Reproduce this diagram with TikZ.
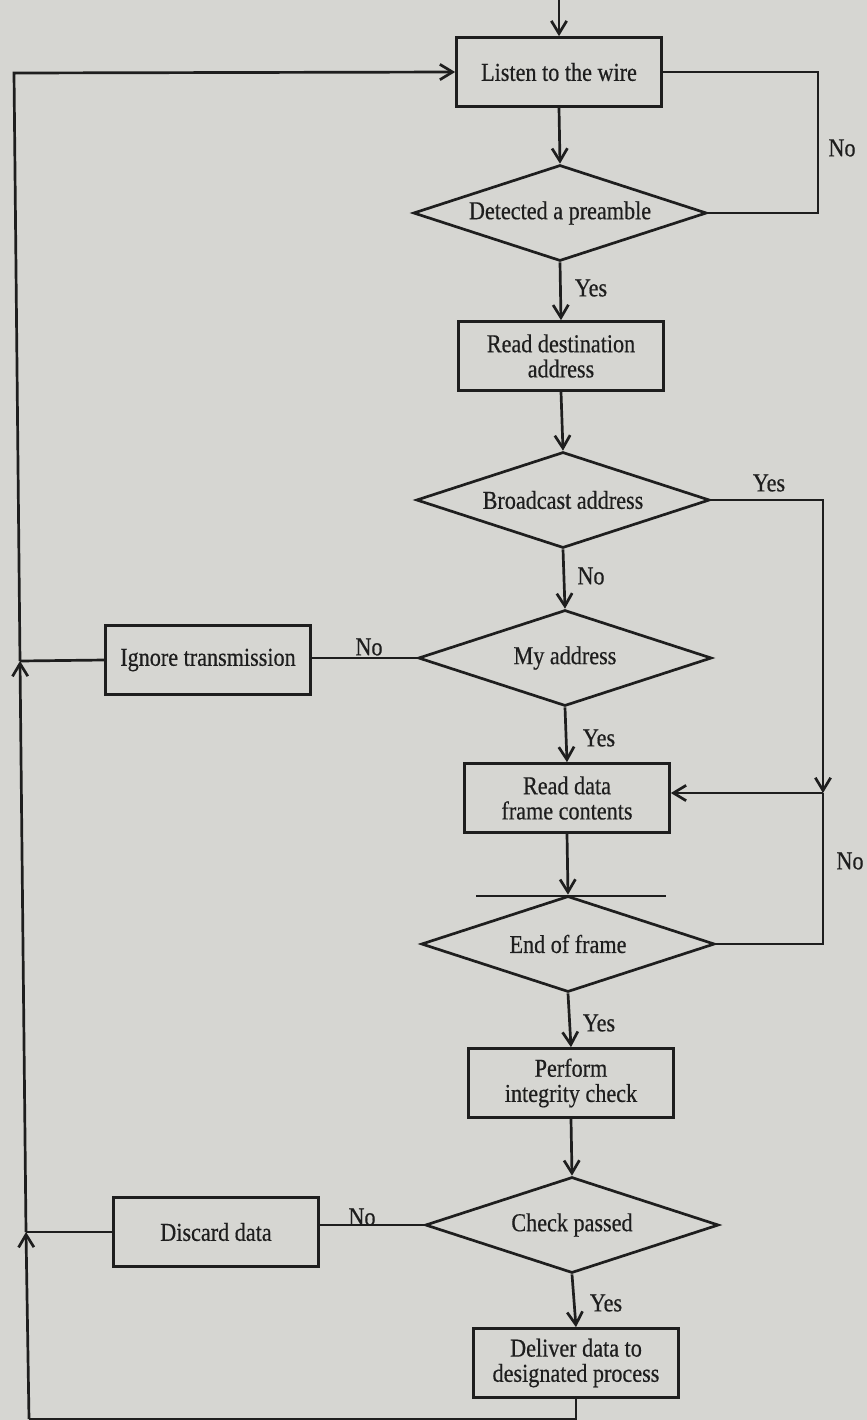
\documentclass[tikz,border=0pt]{standalone}
\usepackage{fontspec}
\setmainfont{Liberation Serif}[FakeStretch=0.86,FakeBold=0.5]
\usetikzlibrary{shapes.geometric,arrows.meta}
\definecolor{paper}{RGB}{214,214,210}
\definecolor{ink}{RGB}{30,30,30}

\begin{document}
\begin{tikzpicture}[x=0.03cm,y=-0.03cm,
  every node/.style={font=\fontsize{22}{21.5}\selectfont, text=ink},
  procbox/.style={draw=ink, line width=2.3pt, rectangle, minimum width=6.15cm,
    minimum height=2.07cm, align=center, inner sep=0pt},
  decision/.style={draw=ink, line width=2.3pt, diamond, aspect=3.06,
    minimum width=8.8cm, minimum height=2.88cm, inner sep=0pt, align=center},
  flow/.style={draw=ink, line width=2.3pt},
  arr/.style={flow, -{Straight Barb[length=0.38cm,width=0.46cm]}}
]
% paper
\fill[paper] (0,0) rectangle (867,1420);
\useasboundingbox (0,0) rectangle (867,1420);

% process steps and decisions
\node[procbox]  (listen)    at (559,72)   {Listen to the wire};
\node[decision] (detect)    at (560,213)  {Detected a preamble};
\node[procbox]  (readdest)  at (561,356)  {Read destination\\address};
\node[decision] (bcast)     at (563,500)  {Broadcast address};
\node[decision] (myaddr)    at (565,658)  {My address};
\node[procbox]  (ignore)    at (208,660)  {Ignore transmission};
\node[procbox]  (readdata)  at (567,798)  {Read data\\frame contents};
\node[decision] (eof)       at (568,944)  {End of frame};
\node[procbox]  (integrity) at (571,1083) {Perform\\integrity check};
\node[decision] (check)     at (572,1225) {Check passed};
\node[procbox]  (discard)   at (216,1232) {Discard data};
\node[procbox]  (deliver)   at (576,1363) {Deliver data to\\designated process};

% routing points
\coordinate (entry) at (559,0);
\coordinate (rA)    at (818,72);
\coordinate (rB)    at (823,793);
\coordinate (barL)  at (476,896);
\coordinate (barR)  at (666,896);
\coordinate (lTop)  at (14,73);
\coordinate (lJ1)   at (20,661);
\coordinate (lJ2)   at (26,1232);
\coordinate (lBot)  at (29,1419);

% main flow
\draw[arr] (entry) -- (listen.north);
\draw[arr] (listen.south) -- (detect.north);
\draw[flow] (detect.east) -| (rA) -- (listen.east);
\draw[arr] (detect.south) -- (readdest.north);
\draw[arr] (readdest.south) -- (bcast.north);
\draw[arr] (bcast.east) -| (rB);
\draw[flow] (eof.east) -| (rB);
\draw[arr] (rB) -- (rB -| readdata.east);
\draw[arr] (bcast.south) -- (myaddr.north);
\draw[flow] (myaddr.west) -- (myaddr.west -| ignore.east);
\draw[arr] (myaddr.south) -- (readdata.north);
\draw[arr] (readdata.south) -- (eof.north);
\draw[flow] (barL) -- (barR);
\draw[arr] (eof.south) -- (integrity.north);
\draw[arr] (integrity.south) -- (check.north);
\draw[flow] (check.west) -- (check.west -| discard.east);
\draw[arr] (check.south) -- (deliver.north);

% return path on the left
\draw[flow] (deliver.south) |- (lBot);
\draw[arr] (lBot) -- (lJ2);
\draw[arr] (lJ2) -- (lJ1);
\draw[arr] (lJ1) -- (lTop) -- (listen.west);
\draw[flow] (ignore.west) -- (lJ1);
\draw[flow] (discard.west) -- (lJ2);

% branch labels
\node (noA)  at (842,148)  {No};
\node (yesA) at (591,288)  {Yes};
\node (yesB) at (769,483)  {Yes};
\node (noB)  at (591,576)  {No};
\node (noC)  at (369,647)  {No};
\node (yesC) at (599,738)  {Yes};
\node (noD)  at (850,861)  {No};
\node (yesD) at (599,1023) {Yes};
\node (noE)  at (362,1217) {No};
\node (yesE) at (606,1303) {Yes};
\end{tikzpicture}
\end{document}
